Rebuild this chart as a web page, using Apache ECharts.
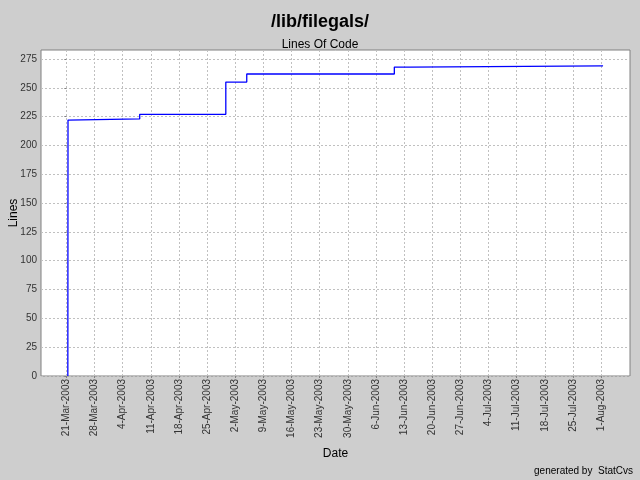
<!DOCTYPE html>
<html>
<head>
<meta charset="utf-8">
<script src="https://cdn.jsdelivr.net/npm/echarts@6/dist/echarts.min.js"></script>
<style>
html,body{margin:0;padding:0;background:#cecece;}
#c{width:640px;height:480px;}
</style>
</head>
<body>
<div id="c"></div>
<script>
// commit times and lines of code
const dates = ['2003-03-21 09:00','2003-03-21 10:00','2003-03-21 21:00','2003-04-08 06:00','2003-04-29 16:00','2003-05-04 21:00','2003-06-10 14:00','2003-06-14 13:00','2003-08-01 12:00'];
const lines = [0, 222, 223, 227, 255, 262, 268, 269, 269];
// tick labels
const xTickDates = ['2003-03-21','2003-03-28','2003-04-04','2003-04-11','2003-04-18','2003-04-25','2003-05-02','2003-05-09','2003-05-16','2003-05-23','2003-05-30','2003-06-06','2003-06-13','2003-06-20','2003-06-27','2003-07-04','2003-07-11','2003-07-18','2003-07-25','2003-08-01'];
const yTicks = [0,25,50,75,100,125,150,175,200,225,250,275];

const MON = ['Jan','Feb','Mar','Apr','May','Jun','Jul','Aug','Sep','Oct','Nov','Dec'];
const BASE = Date.UTC(2003, 2, 21);
function toDay(s) {
  const [d, t] = s.split(' ');
  const [y, m, dd] = d.split('-').map(Number);
  let h = 0, mi = 0;
  if (t) { [h, mi] = t.split(':').map(Number); }
  return (Date.UTC(y, m - 1, dd, h, mi) - BASE) / 86400000;
}
function fmt(v) {
  const dt = new Date(BASE + Math.round(v) * 86400000);
  return dt.getUTCDate() + '-' + MON[dt.getUTCMonth()] + '-' + dt.getUTCFullYear();
}
const data = dates.map((d, i) => [toDay(d), lines[i]]);
const xTicks = xTickDates.map(toDay);

const font = 'Liberation Sans, Arial, sans-serif';
const chart = echarts.init(document.getElementById('c'), null, {renderer: 'canvas'});
chart.setOption({
  backgroundColor: '#cecece',
  animation: false,
  title: [
    {text: '/lib/filegals/', left: 'center', top: 8,
     textStyle: {fontFamily: font, fontSize: 18, fontWeight: 'bold', color: '#000'}},
    {text: 'Lines Of Code', left: 'center', top: 34,
     textStyle: {fontFamily: font, fontSize: 12, fontWeight: 'normal', color: '#000'}}
  ],
  grid: {left: 41, top: 50, right: 10, bottom: 104, show: true, containLabel: false,
         outerBoundsMode: 'none',
         backgroundColor: '#ffffff', borderColor: '#808080', borderWidth: 1},
  xAxis: {
    type: 'value', min: -6.3, max: 140.2,
    name: 'Date', nameLocation: 'middle', nameGap: 72, nameMoveOverlap: false,
    nameTextStyle: {fontFamily: font, fontSize: 12, color: '#000'},
    axisLine: {show: false},
    axisTick: {show: true, customValues: xTicks, length: 2, lineStyle: {color: '#808080'}},
    axisLabel: {customValues: xTicks, rotate: 90, margin: 3, formatter: fmt,
                fontFamily: font, fontSize: 10, color: '#333'},
    splitLine: {show: true, lineStyle: {color: '#c0c0c0', type: [2, 2], width: 1}}
  },
  yAxis: {
    type: 'value', min: 0, max: 282.8,
    name: 'Lines', nameLocation: 'middle', nameGap: 21, nameMoveOverlap: false,
    nameTextStyle: {fontFamily: font, fontSize: 12, color: '#000'},
    axisLine: {show: false},
    axisTick: {show: true, customValues: yTicks, length: 2, lineStyle: {color: '#808080'}},
    axisLabel: {customValues: yTicks, margin: 4, fontFamily: font, fontSize: 10, color: '#333'},
    splitLine: {show: true, lineStyle: {color: '#c0c0c0', type: [2, 2], width: 1}}
  },
  graphic: [
    {type: 'text', right: 7, top: 466,
     style: {text: 'generated by  StatCvs', fontFamily: font, fontSize: 10, fill: '#000'}}
  ],
  series: [{
    type: 'line', step: 'end', data: data, showSymbol: false, symbol: 'none',
    lineStyle: {color: '#0000ff', width: 1.3}, clip: true
  }]
});
</script>
</body>
</html>
